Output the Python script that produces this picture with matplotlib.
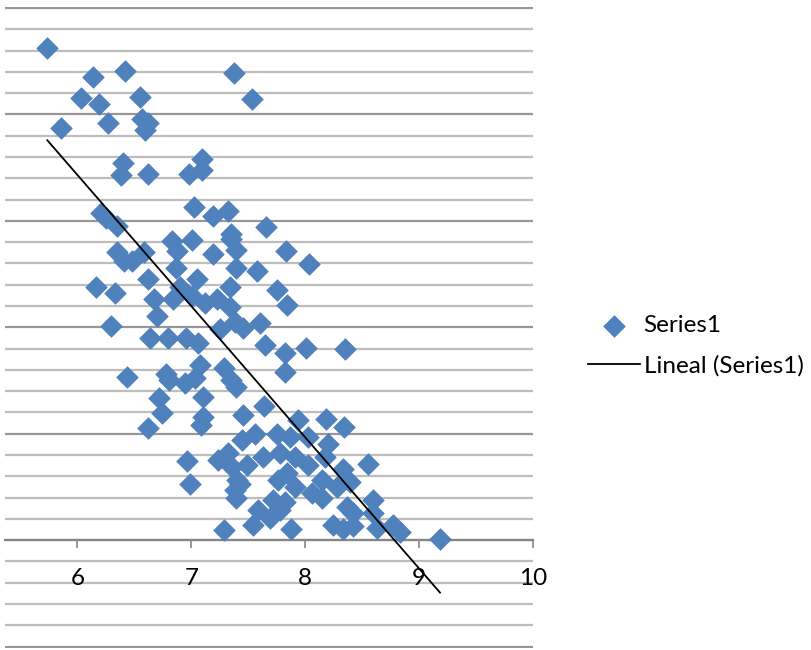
import numpy as np
import matplotlib
matplotlib.use('Agg')
import matplotlib.pyplot as plt
from matplotlib.ticker import MultipleLocator

plt.rcParams['font.family'] = ['Lato', 'DejaVu Sans']

# puntos (x, y en unidades de la rejilla)
x = [5.736, 6.141, 6.422, 6.035, 6.193, 6.554, 6.273, 5.859, 6.572, 6.598,
     6.616, 7.372, 7.530, 6.405, 6.387, 6.624, 7.091, 6.976, 7.091, 7.020,
     7.187, 7.319, 7.653, 6.211, 6.255, 6.352, 6.827, 7.003, 7.346, 7.346,
     6.352, 6.413, 6.484, 6.589, 6.871, 7.187, 7.390, 7.829, 8.032, 6.862,
     7.390, 7.574, 7.047, 6.616, 6.167, 6.334, 6.897, 7.337, 7.750, 6.677,
     6.836, 7.003, 7.117, 7.223, 7.337, 7.838, 6.695, 6.299, 7.249, 7.381,
     7.451, 7.601, 6.642, 6.792, 6.950, 7.055, 7.645, 7.821, 8.005, 8.348,
     7.821, 7.073, 7.284, 6.440, 6.774, 6.809, 6.941, 7.029, 7.346, 7.390,
     6.721, 7.099, 6.739, 7.099, 7.082, 6.616, 7.451, 7.636, 7.935, 8.181,
     8.339, 6.967, 6.985, 7.231, 7.319, 7.354, 7.398, 7.390, 7.381, 7.284,
     7.750, 7.864, 8.023, 8.199, 7.557, 7.442, 7.627, 7.777, 7.909, 8.023,
     8.172, 8.551, 8.331, 7.486, 7.759, 7.909, 7.838, 8.146, 8.278, 8.392,
     8.058, 8.146, 7.425, 7.715, 7.821, 7.583, 7.689, 7.777, 8.594, 8.594,
     8.366, 8.419, 7.539, 7.873, 8.243, 8.331, 8.419, 8.630, 8.770, 8.832,
     9.184]
y = [23.12, 21.76, 22.05, 20.78, 20.50, 20.83, 19.61, 19.37, 19.79, 19.28,
     19.61, 21.95, 20.73, 17.73, 17.17, 17.21, 17.92, 17.21, 17.40, 15.67,
     15.24, 15.48, 14.73, 15.38, 15.15, 14.77, 14.07, 14.12, 14.40, 14.17,
     13.56, 13.13, 13.13, 13.56, 13.60, 13.46, 13.65, 13.60, 12.99, 12.80,
     12.80, 12.66, 12.29, 12.29, 11.87, 11.63, 11.87, 11.87, 11.73, 11.35,
     11.35, 11.49, 11.16, 11.35, 10.93, 11.07, 10.55, 10.04, 9.90, 10.23,
     9.99, 10.18, 9.52, 9.52, 9.52, 9.24, 9.15, 8.77, 9.01, 8.96,
     7.88, 8.21, 8.07, 7.65, 7.79, 7.50, 7.36, 7.60, 7.50, 7.18,
     6.66, 6.71, 5.96, 5.77, 5.39, 5.25, 5.86, 6.29, 5.63, 5.68,
     5.30, 3.71, 2.63, 3.75, 4.08, 3.42, 2.81, 1.97, 2.35, 0.47,
     4.97, 4.83, 4.83, 4.50, 4.97, 4.69, 3.89, 4.08, 3.89, 3.52,
     3.89, 3.56, 3.33, 3.52, 2.81, 2.49, 3.14, 2.81, 2.49, 2.72,
     2.20, 1.97, 2.63, 1.88, 1.78, 1.41, 1.03, 1.41, 1.88, 1.27,
     1.55, 1.27, 0.70, 0.52, 0.70, 0.52, 0.66, 0.56, 0.70, 0.38,
     0.05]
x = np.array(x)
y = np.array(y)

azul = '#4F81BD'

fig = plt.figure(figsize=(8.12, 6.5), dpi=100)
ax = fig.add_axes([5/812, 2/650, 528/812, 641/650])

# rejilla horizontal (cada 5 un poco mas oscura)
for k in range(-5, 26):
    c = '#979797' if k % 5 == 0 else '#BDBDBD'
    ax.axhline(k, color=c, lw=1.6, zorder=0)

ax.scatter(x, y, marker='D', s=11**2, color=azul, edgecolors=azul, lw=0.5,
           zorder=3, label='Series1')

# linea de tendencia lineal
m, b = np.polyfit(x, y, 1)
xt = np.array([x.min(), x.max()])
ax.plot(xt, m*xt + b, color='black', lw=1.3, zorder=4, label='Lineal (Series1)')

ax.set_xlim(5.365, 10.0)
ax.set_ylim(-5.07, 25.05)
ax.xaxis.set_major_locator(MultipleLocator(1))
ax.set_yticks([])

for s in ['left', 'right', 'top']:
    ax.spines[s].set_visible(False)
ax.spines['bottom'].set_position(('data', 0))
ax.spines['bottom'].set_color('#868686')
ax.spines['bottom'].set_linewidth(1.6)
ax.spines['bottom'].set_zorder(1)
ax.tick_params(axis='x', direction='out', length=6, width=1.2, color='#868686',
               labelsize=17.5, pad=14)

leg = ax.legend(loc='center left', bbox_to_anchor=(588/812, 1-346/650),
                bbox_transform=fig.transFigure, frameon=False, fontsize=17.5,
                borderpad=0, handlelength=2.14, handletextpad=0.15,
                labelspacing=0.8, borderaxespad=0)

fig.savefig('out.png', dpi=100)
